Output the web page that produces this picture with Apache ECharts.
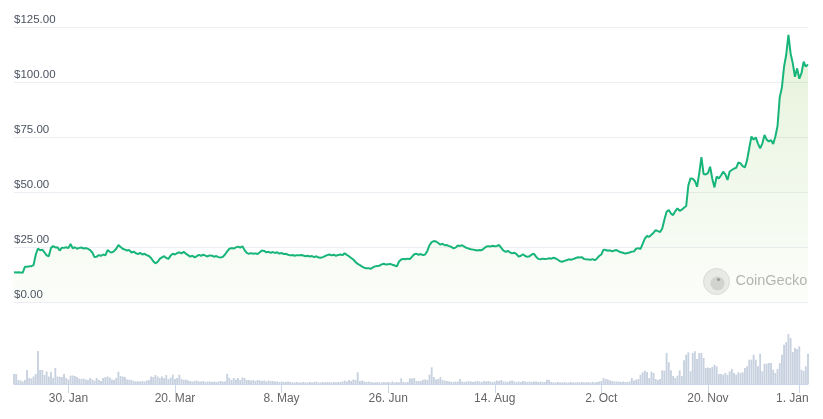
<!DOCTYPE html>
<html>
<head>
<meta charset="utf-8">
<script src="https://cdn.jsdelivr.net/npm/echarts@6/dist/echarts.min.js"></script>
<style>
  html, body { margin: 0; padding: 0; background: #fff; }
  #chart { width: 823px; height: 419px; }
</style>
</head>
<body>
<div id="chart"></div>
<script>
// daily closing price, USD (5 Jan 2023 .. 5 Jan 2024)
const prices = [
  13.5, 13.4, 13.5, 13.4, 13.3, 16.0, 16.0, 16.2, 16.3, 16.8,
  21.5, 24.3, 23.5, 23.8, 22.6, 21.2, 20.8, 24.6, 25.4, 24.8,
  24.9, 23.4, 24.7, 24.6, 24.9, 24.5, 26.4, 24.4, 24.9, 24.2,
  24.6, 24.8, 24.3, 24.5, 24.2, 23.6, 22.5, 20.4, 20.6, 21.3,
  21.0, 21.6, 21.2, 23.6, 22.8, 22.5, 23.1, 24.2, 25.9, 25.0,
  24.2, 23.8, 23.4, 23.6, 22.5, 22.9, 22.2, 21.8, 22.3, 21.6,
  21.9, 21.3, 20.9, 20.0, 18.5, 17.6, 18.2, 19.6, 20.3, 20.8,
  20.0, 19.6, 21.1, 21.9, 21.6, 22.2, 22.6, 22.1, 22.8, 22.0,
  21.3, 20.6, 21.0, 20.3, 20.8, 21.4, 21.0, 21.5, 21.1, 20.7,
  21.2, 21.0, 20.6, 20.9, 20.4, 20.2, 20.5, 21.6, 23.0, 24.2,
  24.5, 24.3, 24.8, 25.2, 24.7, 25.3, 23.6, 22.3, 21.9, 22.2,
  21.9, 22.1, 21.8, 22.6, 23.4, 23.2, 22.6, 22.8, 22.4, 22.7,
  22.3, 22.6, 22.0, 22.3, 21.8, 21.9, 21.5, 21.2, 21.4, 21.0,
  21.3, 21.2, 21.4, 21.1, 20.8, 21.0, 20.7, 20.9, 20.4, 20.8,
  20.2, 20.1, 20.4, 20.9, 21.3, 21.6, 21.2, 21.5, 21.0, 21.4,
  21.6, 21.3, 22.1, 21.4, 20.8, 20.0, 19.3, 18.2, 17.3, 16.8,
  16.1, 15.6, 15.3, 15.4, 15.1, 15.7, 16.2, 16.4, 16.5, 17.1,
  17.4, 17.0, 17.2, 17.3, 16.9, 16.6, 16.2, 18.4, 19.3, 19.6,
  19.4, 19.7, 19.5, 20.6, 21.7, 21.9, 21.5, 21.8, 21.3, 21.6,
  23.2, 25.8, 27.2, 27.7, 27.5, 26.8, 26.1, 26.5, 25.8, 25.9,
  25.4, 25.1, 24.4, 24.7, 25.7, 25.5, 25.8, 25.2, 24.6, 24.3,
  24.0, 23.8, 23.6, 23.4, 23.6, 23.5, 24.3, 25.1, 25.4, 25.2,
  25.6, 25.3, 25.5, 25.9, 24.6, 23.4, 22.8, 23.2, 22.6, 22.1,
  22.4, 21.8, 20.6, 21.0, 21.7, 20.9, 20.5, 20.8, 21.6, 21.9,
  20.6, 19.6, 19.4, 19.7, 19.5, 19.6, 19.9, 19.7, 20.1, 19.8,
  19.2, 18.5, 18.3, 18.7, 19.0, 19.4, 19.2, 19.5, 19.9, 20.3,
  20.2, 20.4, 19.6, 19.4, 19.3, 19.2, 19.5, 19.0, 19.8, 20.9,
  21.6, 23.8, 23.6, 23.3, 23.5, 23.0, 23.4, 23.6, 23.0, 22.6,
  22.4, 22.0, 22.3, 22.5, 22.9, 23.0, 24.2, 24.5, 24.1, 26.4,
  28.8, 30.1, 29.6, 30.6, 31.5, 32.7, 32.2, 31.8, 33.4, 37.5,
  41.0, 41.8, 40.2, 39.5, 41.3, 42.6, 41.4, 42.0, 42.8, 43.6,
  53.0, 56.2, 56.0, 55.0, 52.4, 58.5, 65.8, 58.2, 58.0, 58.6,
  61.5, 56.0, 52.1, 57.0, 56.2, 57.5, 59.2, 58.0, 55.5, 59.3,
  60.0, 60.6, 61.0, 63.5, 63.0, 61.8, 61.2, 64.5, 70.0, 75.2,
  73.8, 74.8, 72.0, 69.9, 72.0, 75.9, 73.8, 73.0, 73.6, 71.8,
  75.2, 80.0, 93.0, 97.5, 107.0, 112.5, 121.4, 113.0, 108.5, 102.4,
  106.2, 101.5, 104.0, 109.2, 107.0, 108.0
];

// daily trading volume (relative units, axis not shown)
const volumes = [
  10, 10, 4, 3.5, 2.5, 4, 14, 6, 5.5, 7.5,
  10, 33, 14, 14, 9, 12.5, 7.5, 12, 6, 16,
  7.5, 7.3, 7, 10, 6, 4.5, 8.3, 8.5, 8, 7,
  5.5, 5, 5.5, 4.5, 4, 6, 4.5, 3.5, 6, 4,
  3, 6, 7, 7.5, 6.5, 4.5, 4, 6, 12.3, 8,
  7.5, 7, 4.5, 4.3, 4, 3, 2.5, 2.8, 2.5, 3,
  2.5, 3.5, 4, 7.5, 7, 9, 7.5, 6, 7.5, 6,
  9, 5, 6.5, 9.3, 5, 6, 9.3, 5, 4, 4.5,
  3.5, 3, 2.5, 3, 3.5, 2.5, 2.5, 3, 2, 2.5,
  2.5, 2, 2.5, 2, 2.5, 3, 2.5, 2.5, 10.3, 6,
  4, 6, 4.5, 6, 4, 6.5, 6, 4, 4, 3.5,
  4, 3, 4, 3.5, 3, 3.5, 2.5, 3.5, 3, 3,
  2.5, 2.5, 2, 2.5, 2, 2, 2.5, 2, 1.5, 1.5,
  2, 1.5, 1.5, 2, 1.5, 1.5, 2, 1.5, 2, 2.5,
  1.5, 1.5, 2, 1.5, 2, 2, 1.5, 2, 1.5, 2,
  2, 2.5, 3.5, 2.5, 4, 3, 4.5, 4, 11.7, 3,
  3.5, 2.5, 2, 2.5, 2, 1.5, 1.5, 2, 1.5, 1.5,
  2, 1.5, 2, 1.5, 2.5, 1.5, 2, 1.5, 5.7, 2,
  1.5, 2, 5.7, 5.5, 6, 3, 3, 3, 4.3, 4.5,
  4, 9.3, 16.7, 7, 4.5, 5, 7, 4, 3.5, 3,
  2.5, 2.3, 2, 2.5, 2.3, 5, 2.5, 2, 2.5, 2.8,
  2.5, 2, 2.5, 3, 2.5, 2, 3, 2.5, 3, 2.5,
  2, 2.5, 3.5, 3, 4, 2.5, 2.5, 2, 3, 3.5,
  2.5, 2, 2.5, 2, 3, 2.5, 2, 2.5, 2, 2.5,
  2.5, 2, 2.5, 2, 2, 4.3, 4, 2, 1.5, 1.5,
  2, 1.5, 1.5, 2, 1.5, 1.5, 2, 1.5, 1.5, 2,
  1.5, 2, 1.5, 1.5, 2, 1.5, 2, 1.5, 2, 2.5,
  3, 6, 5, 4.5, 3.5, 3, 2.5, 2.5, 2.5, 2,
  2.5, 2, 2, 2.5, 6, 3.5, 4.5, 5, 9.3, 11.7,
  13.3, 12, 6, 12.3, 11, 5, 4, 5, 13.7, 13.3,
  31, 21.7, 13.7, 8, 6, 8.3, 13.7, 8, 23.7, 29.3,
  31.7, 12.7, 31, 32.7, 25, 31, 31, 26, 16, 16.5,
  16, 17, 19.3, 17.7, 10, 10, 9.3, 11, 9.3, 12.7,
  15, 11, 9.3, 11.7, 11, 11.7, 16, 17.7, 24.3, 24.3,
  29.3, 24.3, 17.7, 30.3, 12.7, 20.3, 20.3, 21, 21, 14.3,
  11, 15, 21, 29.3, 39.3, 41.7, 50, 46, 32, 36,
  35, 37.7, 14.3, 13, 17.7, 30.3
];

const tickLabels = ["30. Jan", "20. Mar", "8. May", "26. Jun", "14. Aug", "2. Oct", "20. Nov", "1. Jan"];
const priceTicks = [0, 25, 50, 75, 100, 125];

const 月份 = ["Jan", "Feb", "Mar", "Apr", "May", "Jun", "Jul", "Aug", "Sep", "Oct", "Nov", "Dec"];
const 起始日 = Date.UTC(2023, 0, 5);
const dates = prices.map((_, i) => {
  const d = new Date(起始日 + i * 86400000);
  return `${d.getUTCDate()}. ${月份[d.getUTCMonth()]}`;
});

const 显示刻度 = (index, value) => tickLabels.includes(value);

const myChart = echarts.init(document.getElementById("chart"), null, { renderer: "canvas" });

const option = {
  animation: false,
  backgroundColor: "#fff",
  textStyle: { fontFamily: "Liberation Sans, Arial, sans-serif" },
  grid: [
    { left: 14, right: 15, top: 27, height: 275, outerBoundsMode: "none", containLabel: false },
    { left: 14, right: 15, top: 330, height: 54, outerBoundsMode: "none", containLabel: false },
  ],
  xAxis: [
    {
      type: "category",
      gridIndex: 0,
      data: dates,
      boundaryGap: false,
      axisLine: { show: false },
      axisTick: { show: false },
      axisLabel: { show: false },
      splitLine: { show: false },
    },
    {
      type: "category",
      gridIndex: 1,
      data: dates,
      boundaryGap: false,
      axisLine: { show: true, lineStyle: { color: "#ccd6eb", width: 1 } },
      axisTick: { show: true, interval: 显示刻度, length: 9, lineStyle: { color: "#ccd6eb" } },
      axisLabel: {
        interval: 显示刻度,
        color: "#666",
        fontSize: 12,
        margin: 9,
        // 最后一个标签靠近右边缘，向左挪一点
        formatter: (v) => (v === "1. Jan" ? "{last|" + v + "}" : v),
        rich: { last: { color: "#666", fontSize: 12, padding: [0, 14, 0, 0] } },
      },
    },
  ],
  yAxis: [
    {
      type: "value",
      gridIndex: 0,
      min: priceTicks[0],
      max: priceTicks[priceTicks.length - 1],
      interval: 25,
      axisLine: { show: false },
      axisTick: { show: false },
      splitLine: { lineStyle: { color: "#eceef3", width: 1 } },
      axisLabel: {
        inside: true,
        margin: 0,
        verticalAlign: "bottom",
        padding: [0, 0, 1, 0],
        color: "#4b5260",
        fontSize: 11.5,
        formatter: (v) => "$" + v.toFixed(2),
      },
    },
    {
      type: "value",
      gridIndex: 1,
      min: 0,
      max: 54,
      show: false,
      splitLine: { show: false },
    },
  ],
  series: [
    {
      name: "Price",
      type: "line",
      xAxisIndex: 0,
      yAxisIndex: 0,
      data: prices,
      showSymbol: false,
      symbol: "none",
      lineStyle: { color: "#18b57a", width: 2 },
      areaStyle: {
        color: new echarts.graphic.LinearGradient(0, 0, 0, 1, [
          { offset: 0, color: "rgba(140, 200, 90, 0.32)" },
          { offset: 1, color: "rgba(140, 200, 90, 0.04)" },
        ]),
      },
    },
    {
      name: "Volume",
      type: "bar",
      xAxisIndex: 1,
      yAxisIndex: 1,
      data: volumes,
      barCategoryGap: "15%",
      itemStyle: { color: "#c7d1df" },
    },
  ],
  graphic: [
    {
      type: "group",
      left: 703,
      top: 268,
      children: [
        { type: "circle", shape: { cx: 13, cy: 13, r: 13 }, style: { fill: "#ececec", stroke: "#dcdcdc", lineWidth: 1 } },
        { type: "circle", shape: { cx: 14, cy: 15, r: 7 }, style: { fill: "#d4d4d4" } },
        { type: "circle", shape: { cx: 15, cy: 11, r: 1.6 }, style: { fill: "#9a9a9a" } },
        {
          type: "text",
          left: 32,
          top: 5,
          style: { text: "CoinGecko", fill: "#b5b5b5", fontSize: 14.5, fontFamily: "Liberation Sans, Arial, sans-serif" },
        },
      ],
    },
  ],
};

myChart.setOption(option);
</script>
</body>
</html>
